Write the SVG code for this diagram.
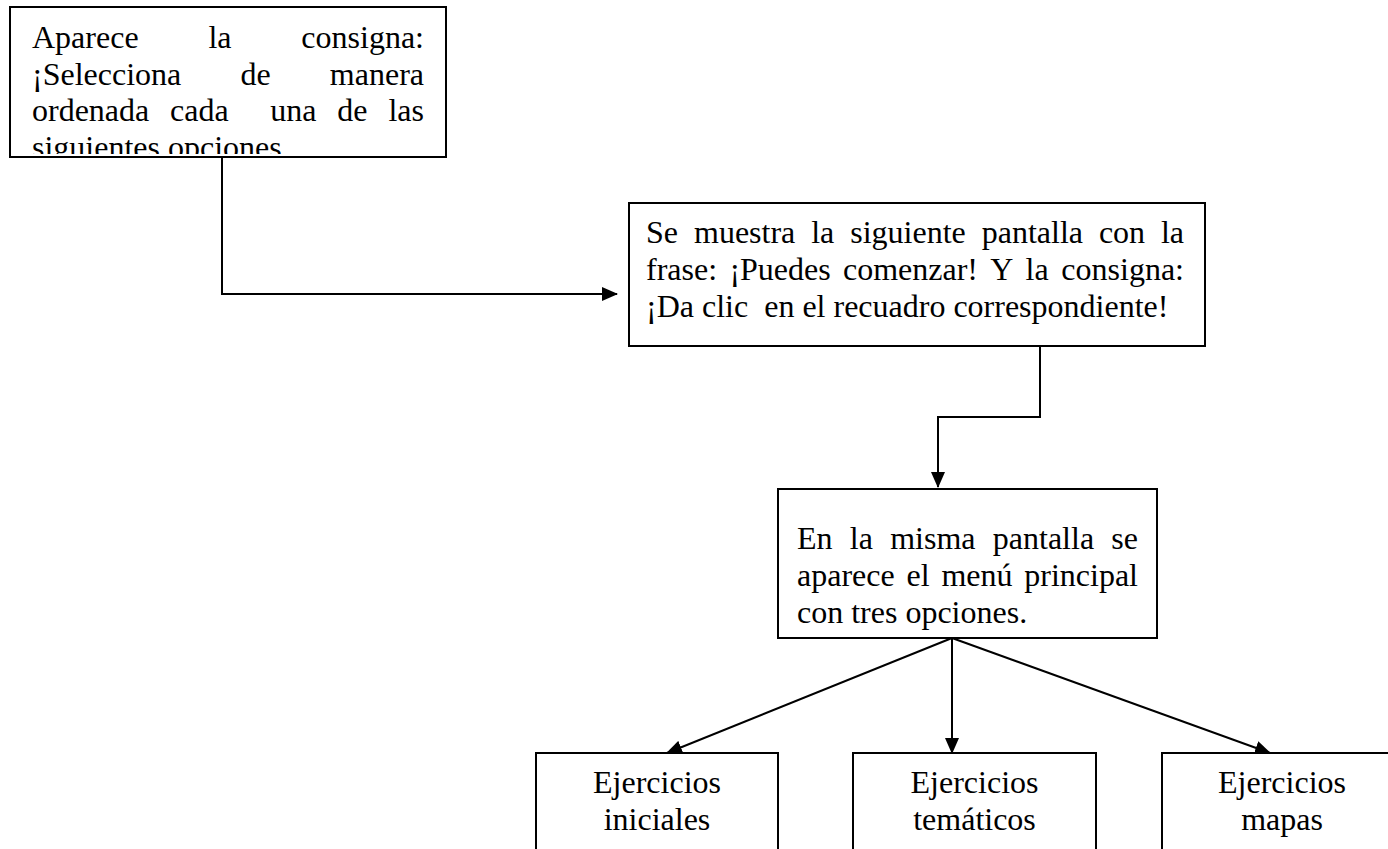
<svg xmlns="http://www.w3.org/2000/svg" width="1388" height="849" viewBox="0 0 1388 849">
<style>
.box{fill:#fff;stroke:#000;stroke-width:2}
.t{font-family:"Liberation Serif","Times New Roman",serif;font-size:32px;fill:#000}
.c{text-anchor:middle}
.ln{fill:none;stroke:#000;stroke-width:2}
</style>
<defs>
<marker id="ah" markerUnits="userSpaceOnUse" markerWidth="16" markerHeight="14" refX="15" refY="7" orient="auto">
<path d="M0,0 L16,7 L0,14 z" fill="#000"/>
</marker>
<clipPath id="clip1"><rect x="10" y="7" width="436" height="147"/></clipPath>
</defs>
<rect width="1388" height="849" fill="#fff"/>
<g id="connectors">
<polyline class="ln" points="222,157 222,294 617,294" marker-end="url(#ah)"/>
<polyline class="ln" points="1040,346 1040,417 938,417 938,487" marker-end="url(#ah)"/>
<line class="ln" x1="952" y1="638" x2="667" y2="753" marker-end="url(#ah)"/>
<line class="ln" x1="952" y1="638" x2="952" y2="753" marker-end="url(#ah)"/>
<line class="ln" x1="952" y1="638" x2="1270" y2="753" marker-end="url(#ah)"/>
</g>
<g id="node1">
<rect class="box" x="10" y="7" width="436" height="150"/>
<g clip-path="url(#clip1)">
<text class="t" y="48"><tspan x="32">Aparece</tspan><tspan x="208.4">la</tspan><tspan x="424" text-anchor="end">consigna:</tspan></text>
<text class="t" y="84.5"><tspan x="32">¡Selecciona</tspan><tspan x="240.5">de</tspan><tspan x="424" text-anchor="end">manera</tspan></text>
<text class="t" y="121"><tspan x="32">ordenada</tspan><tspan x="170.1">cada</tspan><tspan x="270.3">una</tspan><tspan x="337.3">de</tspan><tspan x="424" text-anchor="end">las</tspan></text>
<text class="t" x="32" y="158">siguientes opciones.</text>
</g>
</g>
<g id="node2">
<rect class="box" x="629" y="203" width="576" height="143"/>
<text class="t" y="243"><tspan x="646">Se</tspan><tspan x="694">muestra</tspan><tspan x="811.2">la</tspan><tspan x="850.2">siguiente</tspan><tspan x="981.7">pantalla</tspan><tspan x="1098.9">con</tspan><tspan x="1184" text-anchor="end">la</tspan></text>
<text class="t" y="280"><tspan x="646">frase:</tspan><tspan x="729.4">¡Puedes</tspan><tspan x="843">comenzar!</tspan><tspan x="990.3">Y</tspan><tspan x="1025.6">la</tspan><tspan x="1184" text-anchor="end">consigna:</tspan></text>
<text class="t" y="317"><tspan x="646">¡Da</tspan><tspan x="702">clic</tspan><tspan x="764.2">en</tspan><tspan x="802.4">el</tspan><tspan x="833.5">recuadro</tspan><tspan x="953.4">correspondiente!</tspan></text>
</g>
<g id="node3">
<rect class="box" x="778" y="489" width="379" height="149"/>
<text class="t" y="549"><tspan x="797">En</tspan><tspan x="849.8">la</tspan><tspan x="890.2">misma</tspan><tspan x="992.8">pantalla</tspan><tspan x="1138" text-anchor="end">se</tspan></text>
<text class="t" y="586"><tspan x="797">aparece</tspan><tspan x="906.5">el</tspan><tspan x="941.4">menú</tspan><tspan x="1138" text-anchor="end">principal</tspan></text>
<text class="t" x="797" y="623">con tres opciones.</text>
</g>
<g id="node4">
<rect class="box" x="536" y="753" width="242" height="110"/>
<text class="t c" x="657" y="793">Ejercicios</text>
<text class="t c" x="657" y="830">iniciales</text>
</g>
<g id="node5">
<rect class="box" x="853" y="753" width="243" height="110"/>
<text class="t c" x="974.5" y="793">Ejercicios</text>
<text class="t c" x="974.5" y="830">temáticos</text>
</g>
<g id="node6">
<rect class="box" x="1162" y="753" width="240" height="110"/>
<text class="t c" x="1282" y="793">Ejercicios</text>
<text class="t c" x="1282" y="830">mapas</text>
</g>
</svg>
